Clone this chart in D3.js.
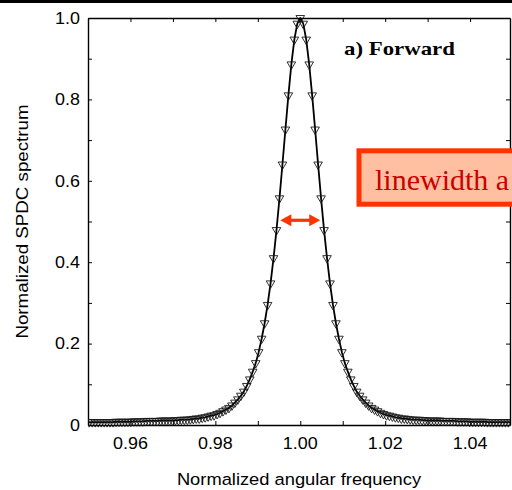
<!DOCTYPE html>
<html>
<head>
<meta charset="utf-8">
<script src="https://cdn.jsdelivr.net/npm/d3@7"></script>
<style>
  html, body { margin: 0; padding: 0; background: #fff; }
  svg { display: block; }
</style>
</head>
<body>
<div id="chart"></div>
<script>
// Normalized SPDC spectrum vs normalized angular frequency (forward case).
// Values.

const freq = [
  0.9503, 0.9510, 0.9517, 0.9524, 0.9531, 0.9538, 0.9545, 0.9552, 0.9559, 0.9566,
  0.9573, 0.9580, 0.9587, 0.9594, 0.9601, 0.9608, 0.9615, 0.9622, 0.9629, 0.9636,
  0.9643, 0.9650, 0.9657, 0.9664, 0.9671, 0.9678, 0.9685, 0.9692, 0.9699, 0.9706,
  0.9713, 0.9720, 0.9727, 0.9734, 0.9741, 0.9748, 0.9755, 0.9762, 0.9769, 0.9776,
  0.9783, 0.9790, 0.9797, 0.9804, 0.9811, 0.9818, 0.9825, 0.9832, 0.9839, 0.9846,
  0.9853, 0.9860, 0.9867, 0.9874, 0.9881, 0.9888, 0.9895, 0.9902, 0.9909, 0.9916,
  0.9923, 0.9930, 0.9937, 0.9944, 0.9951, 0.9958, 0.9965, 0.9972, 0.9979, 0.9986,
  0.9993,
  1.0000,
  1.0007, 1.0014, 1.0021, 1.0028, 1.0035, 1.0042, 1.0049, 1.0056, 1.0063, 1.0070,
  1.0077, 1.0084, 1.0091, 1.0098, 1.0105, 1.0112, 1.0119, 1.0126, 1.0133, 1.0140,
  1.0147, 1.0154, 1.0161, 1.0168, 1.0175, 1.0182, 1.0189, 1.0196, 1.0203, 1.0210,
  1.0217, 1.0224, 1.0231, 1.0238, 1.0245, 1.0252, 1.0259, 1.0266, 1.0273, 1.0280,
  1.0287, 1.0294, 1.0301, 1.0308, 1.0315, 1.0322, 1.0329, 1.0336, 1.0343, 1.0350,
  1.0357, 1.0364, 1.0371, 1.0378, 1.0385, 1.0392, 1.0399, 1.0406, 1.0413, 1.0420,
  1.0427, 1.0434, 1.0441, 1.0448, 1.0455, 1.0462, 1.0469, 1.0476, 1.0483, 1.0490,
  1.0497
];

const spectrum = [
  0.007, 0.007, 0.007, 0.007, 0.007, 0.007, 0.007, 0.007, 0.007, 0.008,
  0.008, 0.008, 0.008, 0.008, 0.008, 0.009, 0.009, 0.009, 0.009, 0.010,
  0.010, 0.010, 0.010, 0.010, 0.011, 0.011, 0.011, 0.011, 0.011, 0.012,
  0.012, 0.013, 0.013, 0.013, 0.014, 0.015, 0.016, 0.016, 0.018, 0.019,
  0.021, 0.023, 0.024, 0.027, 0.030, 0.034, 0.038, 0.042, 0.048, 0.055,
  0.063, 0.072, 0.082, 0.096, 0.112, 0.131, 0.152, 0.179, 0.212, 0.250,
  0.295, 0.348, 0.410, 0.479, 0.557, 0.640, 0.726, 0.810, 0.886, 0.947,
  0.986,
  1.000,
  0.986, 0.947, 0.886, 0.810, 0.726, 0.640, 0.557, 0.479, 0.410, 0.348,
  0.295, 0.250, 0.212, 0.179, 0.152, 0.131, 0.112, 0.096, 0.082, 0.072,
  0.063, 0.055, 0.048, 0.042, 0.038, 0.034, 0.030, 0.027, 0.024, 0.023,
  0.021, 0.019, 0.018, 0.016, 0.016, 0.015, 0.014, 0.013, 0.013, 0.013,
  0.012, 0.012, 0.011, 0.011, 0.011, 0.011, 0.011, 0.010, 0.010, 0.010,
  0.010, 0.010, 0.009, 0.009, 0.009, 0.009, 0.008, 0.008, 0.008, 0.008,
  0.008, 0.008, 0.007, 0.007, 0.007, 0.007, 0.007, 0.007, 0.007, 0.007,
  0.007
];

const xTicks      = [0.96, 0.98, 1.00, 1.02, 1.04];
const xTickLabels = ['0.96', '0.98', '1.00', '1.02', '1.04'];
const yTicks      = [0, 0.2, 0.4, 0.6, 0.8, 1.0];
const yTickLabels = ['0', '0.2', '0.4', '0.6', '0.8', '1.0'];

// FWHM arrow (frequency ends, level) and annotation texts.
const fwhmEnds  = [0.9953, 1.0047];
const fwhmLevel = 0.503;
const panelTitle = 'a) Forward';
const noteText   = 'linewidth a';

const SANS  = '"Liberation Sans", Arial, Helvetica, sans-serif';
const SERIF = '"Liberation Serif", "Times New Roman", Times, serif';

const width = 512, height = 490;
const plot = { left: 88, top: 18, right: 510, bottom: 425 };

const svg = d3.select('#chart').append('svg')
    .attr('width', width)
    .attr('height', height);

// Thin black band along the top of the figure.
svg.append('rect')
    .attr('x', 0).attr('y', 0)
    .attr('width', width).attr('height', 3)
    .attr('fill', '#000');

const x = d3.scaleLinear().domain([0.95, 1.0494]).range([plot.left, plot.right]);
const y = d3.scaleLinear().domain([0, 1]).range([plot.bottom, plot.top]);

// Text with a horizontal stretch along its own direction (the original
// font is a bit wider than Liberation Sans).
function stretchedText(parent, str, px, py, opts) {
    const rot = opts.rotate || 0;
    const sx  = opts.sx || 1;
    return parent.append('text')
        .attr('transform', `translate(${px},${py}) rotate(${rot}) scale(${sx},1)`)
        .attr('text-anchor', opts.anchor || 'start')
        .style('font-family', opts.family || SANS)
        .style('font-size', opts.size + 'px')
        .style('font-weight', opts.weight || 'normal')
        .style('fill', opts.fill || '#000')
        .text(str);
}

// Axes: inward ticks every 0.01 / 0.1 on all four sides.
const tickLen = 4;
const axes = svg.append('g').attr('class', 'axes');

axes.append('g')
    .attr('transform', `translate(0,${plot.bottom})`)
    .call(d3.axisBottom(x).tickValues(x.ticks(10)).tickSizeInner(-tickLen)
        .tickSizeOuter(0).tickFormat(''));
axes.append('g')
    .attr('transform', `translate(0,${plot.top})`)
    .call(d3.axisTop(x).tickValues(x.ticks(10)).tickSizeInner(-tickLen)
        .tickSizeOuter(0).tickFormat(''));
axes.append('g')
    .attr('transform', `translate(${plot.left},0)`)
    .call(d3.axisLeft(y).tickValues(y.ticks(10)).tickSizeInner(-tickLen)
        .tickSizeOuter(0).tickFormat(''));
axes.append('g')
    .attr('transform', `translate(${plot.right},0)`)
    .call(d3.axisRight(y).tickValues(y.ticks(10)).tickSizeInner(-tickLen)
        .tickSizeOuter(0).tickFormat(''));

axes.selectAll('.domain').attr('stroke', '#000').attr('stroke-width', 1.4);
axes.selectAll('.tick line').attr('stroke', '#000').attr('stroke-width', 1);

// Tick labels.
xTicks.forEach((v, i) => {
    stretchedText(svg, xTickLabels[i], x(v), plot.bottom + 24,
        { size: 16, sx: 1.12, anchor: 'middle' });
});
yTicks.forEach((v, i) => {
    stretchedText(svg, yTickLabels[i], plot.left - 8, y(v) + 5.8,
        { size: 16, sx: 1.12, anchor: 'end' });
});

// Axis titles.
stretchedText(svg, 'Normalized angular frequency', (plot.left + plot.right) / 2, 485,
    { size: 16.5, sx: 1.11, anchor: 'middle' });
stretchedText(svg, 'Normalized SPDC spectrum', 27.5, (plot.top + plot.bottom) / 2,
    { size: 16.3, sx: 1.15, anchor: 'middle', rotate: -90 });

// Data: solid curve + open down-triangles.
const pts = freq.map((f, i) => ({ f: f, s: spectrum[i] }));

svg.append('clipPath').attr('id', 'plotClip')
    .append('rect')
    .attr('x', plot.left).attr('y', 0)
    .attr('width', plot.right - plot.left).attr('height', height);

const data = svg.append('g').attr('clip-path', 'url(#plotClip)');

data.append('path')
    .datum(pts)
    .attr('fill', 'none')
    .attr('stroke', '#000')
    .attr('stroke-width', 1.8)
    .attr('stroke-linejoin', 'round')
    .attr('d', d3.line().x(d => x(d.f)).y(d => y(d.s)));

const tri = d3.symbol().type(d3.symbolTriangle).size(32);
data.selectAll('path.mk')
    .data(pts)
    .join('path')
    .attr('class', 'mk')
    .attr('transform', d => `translate(${x(d.f)},${y(d.s)}) rotate(180)`)
    .attr('d', tri)
    .attr('fill', 'none')
    .attr('stroke', '#1a1a1a')
    .attr('stroke-width', 0.9);

// Panel title.
stretchedText(svg, panelTitle, 344, 55,
    { size: 19.5, sx: 1.17, family: SERIF, weight: 'bold' });

// FWHM double arrow.
const arrowColor = '#ff3300';
const ay = y(fwhmLevel);
const ax0 = x(fwhmEnds[0]), ax1 = x(fwhmEnds[1]);
const headL = 11, headH = 6;
svg.append('line')
    .attr('x1', ax0 + headL - 1).attr('x2', ax1 - headL + 1)
    .attr('y1', ay).attr('y2', ay)
    .attr('stroke', arrowColor).attr('stroke-width', 3.2);
svg.append('path')
    .attr('d', `M${ax0},${ay} L${ax0 + headL},${ay - headH} L${ax0 + headL},${ay + headH} Z`)
    .attr('fill', arrowColor);
svg.append('path')
    .attr('d', `M${ax1},${ay} L${ax1 - headL},${ay - headH} L${ax1 - headL},${ay + headH} Z`)
    .attr('fill', arrowColor);

// Callout box, running off the right edge.
svg.append('rect')
    .attr('x', 359).attr('y', 150.8)
    .attr('width', 200).attr('height', 53.4)
    .attr('fill', '#ffbfa0')
    .attr('stroke', '#ff3300')
    .attr('stroke-width', 5);
svg.append('text')
    .attr('x', 375).attr('y', 190)
    .style('font-family', SERIF)
    .style('font-size', '30px')
    .style('fill', '#cc0000')
    .text(noteText);
</script>
</body>
</html>
